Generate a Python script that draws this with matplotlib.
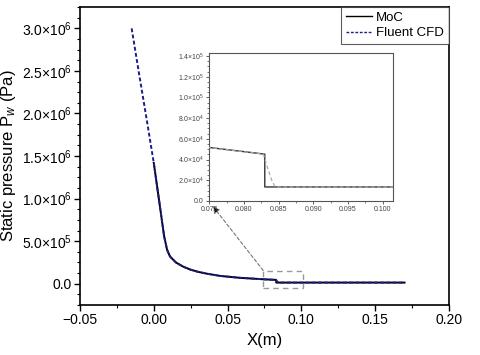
import math
import matplotlib
matplotlib.use("Agg")
import matplotlib.pyplot as plt
from matplotlib.ticker import FuncFormatter, AutoMinorLocator
from matplotlib.patches import Rectangle

plt.rcParams['font.family'] = ['Liberation Sans', 'DejaVu Sans']
plt.rcParams['mathtext.fontset'] = 'custom'
plt.rcParams['mathtext.rm'] = 'Liberation Sans'
plt.rcParams['mathtext.it'] = 'Liberation Sans:italic'

# ---- data ----
cfd_x = [-0.015, -0.01, -0.005, 0.0, 0.004, 0.007, 0.009, 0.011, 0.015, 0.02,
         0.025, 0.03, 0.036, 0.045, 0.058, 0.07, 0.075, 0.0828, 0.0834,
         0.084, 0.0845, 0.09, 0.1, 0.12, 0.15, 0.17]
cfd_p = [3.0e6, 2.47e6, 1.95e6, 1.42e6, 0.93e6, 0.56e6, 0.40e6, 0.32e6, 0.25e6, 0.20e6,
         0.165e6, 0.14e6, 0.118e6, 0.092e6, 0.070e6, 0.057e6, 0.0516e6, 0.0452e6, 0.032e6,
         0.020e6, 0.0135e6, 0.0135e6, 0.0135e6, 0.0135e6, 0.0135e6, 0.0135e6]
moc_x = [0.0, 0.004, 0.007, 0.009, 0.011, 0.015, 0.02, 0.025, 0.03, 0.036,
         0.045, 0.058, 0.07, 0.075, 0.083, 0.083, 0.09, 0.1, 0.12, 0.15, 0.17]
moc_p = [1.42e6, 0.93e6, 0.56e6, 0.40e6, 0.32e6, 0.25e6, 0.20e6, 0.165e6, 0.14e6, 0.118e6,
         0.092e6, 0.070e6, 0.057e6, 0.0516e6, 0.0452e6, 0.0135e6, 0.0135e6, 0.0135e6,
         0.0135e6, 0.0135e6, 0.0135e6]
x_ticks = [-0.05, 0.0, 0.05, 0.10, 0.15, 0.20]
y_ticks = [0.0, 5e5, 1e6, 1.5e6, 2e6, 2.5e6, 3e6]
inset_x_ticks = [0.075, 0.080, 0.085, 0.090, 0.095, 0.100]
inset_y_ticks = [0, 2e4, 4e4, 6e4, 8e4, 1e5, 1.2e5, 1.4e5]
labels = ['MoC', 'Fluent CFD']


def sci_fmt(v, pos):
    if v == 0:
        return '0.0'
    e = int(math.floor(math.log10(abs(v)) + 1e-9))
    m = v / 10 ** e
    return r'$\mathregular{%.1f{\times}10^{%d}}$' % (m, e)


fig = plt.figure(figsize=(4.8, 3.55), dpi=100)
ax = fig.add_axes([0.1667, 0.1408, 0.7683, 0.8392])

navy = '#1c1c8c'
ax.plot(moc_x, moc_p, color='black', lw=1.4, label=labels[0], zorder=3)
ax.plot(cfd_x, cfd_p, color=navy, lw=1.4, ls=(0, (2, 1.2)), label=labels[1], zorder=4)

ax.set_xlim(-0.05, 0.20)
ax.set_ylim(-2.5e5, 3.25e6)
ax.set_xticks(x_ticks)
ax.set_xticklabels(['\u22120.05', '0.00', '0.05', '0.10', '0.15', '0.20'])
ax.set_yticks(y_ticks)
ax.yaxis.set_major_formatter(FuncFormatter(sci_fmt))
ax.xaxis.set_minor_locator(AutoMinorLocator(2))
ax.yaxis.set_minor_locator(AutoMinorLocator(4))
ax.tick_params(which='major', direction='out', length=4, width=1, labelsize=10, pad=2)
ax.tick_params(which='minor', direction='out', length=2.5, width=0.8)
for s in ax.spines.values():
    s.set_linewidth(1.2)
ax.set_xlabel('X(m)', fontsize=12, labelpad=4)
ax.set_ylabel(r'Static pressure P$_{\mathit{w}}$ (Pa)', fontsize=12, labelpad=3)

leg = ax.legend(loc='upper right', fontsize=9.5, frameon=True, fancybox=False,
                borderaxespad=0, handlelength=2.0, handletextpad=0.3,
                borderpad=0.35, labelspacing=0.25)
leg.get_frame().set_edgecolor('#333333')
leg.get_frame().set_linewidth(0.8)
for h in leg.get_lines():
    h.set_linewidth(1.0)

# zoom rectangle
ax.add_patch(Rectangle((0.0742, -0.055e6), 0.0272, 0.21e6, fill=False,
                       ec='#999999', ls=(0, (4, 3)), lw=1.0, zorder=5))

# inset
axi = fig.add_axes([0.436, 0.434, 0.383, 0.417])
axi.plot(moc_x, moc_p, color='#333333', lw=1.0, zorder=3)
axi.plot(cfd_x, cfd_p, color='#aaaaaa', lw=0.9, ls=(0, (3, 2)), zorder=4)
axi.set_xlim(0.075, 0.1015)
axi.set_ylim(0, 1.43e5)
axi.set_xticks(inset_x_ticks)
axi.set_xticklabels(['%.3f' % v for v in inset_x_ticks])
axi.set_yticks(inset_y_ticks)
axi.yaxis.set_major_formatter(FuncFormatter(sci_fmt))
axi.xaxis.set_minor_locator(AutoMinorLocator(2))
axi.yaxis.set_minor_locator(AutoMinorLocator(4))
axi.tick_params(which='major', direction='out', length=2.5, width=0.6, labelsize=5,
                colors='#444444', pad=1.5)
axi.tick_params(which='minor', direction='out', length=1.5, width=0.5, colors='#444444')
for s in axi.spines.values():
    s.set_linewidth(0.8)
    s.set_edgecolor('#555555')

# connector arrow from rectangle corner to inset corner
ax.annotate('', xy=(0.0755, -0.005e6), xycoords=axi.transData,
            xytext=(0.0742, 0.155e6), textcoords=ax.transData,
            arrowprops=dict(arrowstyle='-|>', color='#777777', lw=0.8, ls=(0, (3, 2)),
                            mutation_scale=10, shrinkA=0, shrinkB=0,
                            fc='black', ec='#777777'),
            zorder=6)

fig.savefig('out.png', dpi=100)
